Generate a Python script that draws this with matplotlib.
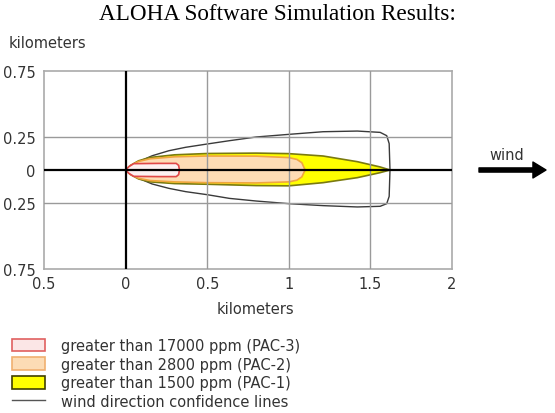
import matplotlib
matplotlib.use("Agg")
import matplotlib.pyplot as plt
from matplotlib.patches import Patch
from matplotlib.lines import Line2D

# ---------------- data (km) ----------------
conf_x = [0, 0.04, 0.08, 0.163, 0.265, 0.368, 0.5, 0.636, 0.8, 1.0, 1.21, 1.42, 1.56, 1.60, 1.615, 1.62]
conf_upper = [0, 0.035, 0.063, 0.108, 0.146, 0.172, 0.197, 0.222, 0.25, 0.27, 0.29, 0.295, 0.285, 0.26, 0.2, 0.0]
conf_lower = [0, -0.035, -0.063, -0.106, -0.139, -0.164, -0.187, -0.215, -0.235, -0.255, -0.27, -0.28, -0.275, -0.255, -0.2, 0.0]

pac1_x = [0, 0.03, 0.08, 0.15, 0.3, 0.5, 0.8, 1.0, 1.21, 1.42, 1.56, 1.62]
pac1_upper = [0, 0.035, 0.07, 0.095, 0.115, 0.125, 0.128, 0.124, 0.106, 0.063, 0.023, 0]
pac1_lower = [0, -0.035, -0.068, -0.09, -0.103, -0.108, -0.118, -0.12, -0.096, -0.058, -0.02, 0]

pac2_x = [0, 0.03, 0.08, 0.15, 0.3, 0.5, 0.8, 1.0, 1.05, 1.08, 1.10]
pac2_upper = [0, 0.033, 0.065, 0.085, 0.1, 0.106, 0.105, 0.094, 0.08, 0.055, 0]
pac2_lower = [0, -0.033, -0.063, -0.08, -0.09, -0.096, -0.098, -0.09, -0.077, -0.052, 0]

pac3_x = [0, 0.02, 0.05, 0.2, 0.31, 0.325, 0.33]
pac3_upper = [0, 0.025, 0.048, 0.05, 0.05, 0.035, 0]
pac3_lower = [0, -0.025, -0.048, -0.05, -0.05, -0.035, 0]

x_ticks = [-0.5, 0, 0.5, 1, 1.5, 2]
x_tick_labels = ["0.5", "0", "0.5", "1", "1.5", "2"]
y_ticks = [0.75, 0.25, 0, -0.25, -0.75]
y_tick_labels = ["0.75", "0.25", "0", "0.25", "0.75"]
grid_x = [0.5, 1.0, 1.5]
grid_y = [0.25, -0.25]

legend_labels = ["greater than 17000 ppm (PAC-3)",
                 "greater than 2800 ppm (PAC-2)",
                 "greater than 1500 ppm (PAC-1)",
                 "wind direction confidence lines"]

W, H = 555, 414
fig = plt.figure(figsize=(W / 100, H / 100), dpi=100)
fig.patch.set_facecolor("white")

def px(x0, y0, x1, y1):
    return [x0 / W, 1 - y1 / H, (x1 - x0) / W, (y1 - y0) / H]

ax = fig.add_axes(px(44, 72, 452, 270))
ax.set_xlim(-0.5, 2)
ax.set_ylim(-0.75, 0.75)

def outline(xs, up, lo):
    xx = list(xs) + list(xs[::-1])
    yy = list(up) + list(lo[::-1])
    return xx, yy

# confidence lines
cx, cy = outline(conf_x, conf_upper, conf_lower)
ax.plot(cx, cy, color="#3a3a3a", lw=1.0, zorder=2, solid_joinstyle="round")

# PAC-1
x1, y1 = outline(pac1_x, pac1_upper, pac1_lower)
ax.fill(x1, y1, facecolor="#ffff00", edgecolor="#7a7a10", lw=1.2, zorder=3, joinstyle="round")
# PAC-2
x2, y2 = outline(pac2_x, pac2_upper, pac2_lower)
ax.fill(x2, y2, facecolor="#fddcb4", edgecolor="#f0a540", lw=1.2, zorder=4, joinstyle="round")
# PAC-3
x3, y3 = outline(pac3_x, pac3_upper, pac3_lower)
ax.fill(x3, y3, facecolor="#fdf1f1", edgecolor="#e04848", lw=1.2, zorder=5, joinstyle="round")

for g in grid_x:
    ax.axvline(g, color="#9a9a9a", lw=1.0, zorder=6)
for g in grid_y:
    ax.axhline(g, color="#9a9a9a", lw=1.0, zorder=6)
ax.axvline(0, color="black", lw=1.6, zorder=7)
ax.axhline(0, color="black", lw=1.6, zorder=7)

for s in ax.spines.values():
    s.set_color("#aaaaaa")
    s.set_linewidth(1.2)

ax.set_xticks(x_ticks)
ax.set_xticklabels(x_tick_labels)
ax.set_yticks(y_ticks)
ax.set_yticklabels(y_tick_labels)
ax.tick_params(length=0, labelsize=10.5, labelcolor="#333333")
ax.tick_params(axis="x", pad=5)
ax.tick_params(axis="y", pad=6)

tfont = dict(family="DejaVu Sans", color="#333333", size=10.5)
fig.text(9 / W, 1 - 43 / H, "kilometers", ha="left", va="center", **tfont)
fig.text(255 / W, 1 - 310 / H, "kilometers", ha="center", va="center", **tfont)

fig.text(0.5, 1 - 14 / H, "ALOHA Software Simulation Results:", ha="center",
         va="center", family="Liberation Serif", size=16.7, color="black")

# wind arrow
fig.text(507 / W, 1 - 156 / H, "wind", ha="center", va="center", **tfont)
ax.annotate("", xy=(546, H - 171), xycoords="figure pixels",
            xytext=(479, H - 171), textcoords="figure pixels",
            arrowprops=dict(facecolor="black", edgecolor="black", width=3,
                            headwidth=11.5, headlength=9.4, shrink=0))

handles = [Patch(facecolor="#fbe6e6", edgecolor="#e06060", lw=1.2),
           Patch(facecolor="#fcdcb5", edgecolor="#f0b070", lw=1.2),
           Patch(facecolor="#ffff00", edgecolor="#404000", lw=1.2),
           Line2D([], [], color="#555555", lw=1.0)]
leg = fig.legend(handles, legend_labels, loc="upper left",
                 bbox_to_anchor=(12 / W, 1 - 339 / H), frameon=False,
                 borderpad=0, borderaxespad=0, handlelength=2.26,
                 handleheight=0.96, handletextpad=1.1, labelspacing=0.25,
                 prop=dict(family="DejaVu Sans", size=10.5))
for t in leg.get_texts():
    t.set_color("#333333")

fig.savefig("out.png", dpi=100)
